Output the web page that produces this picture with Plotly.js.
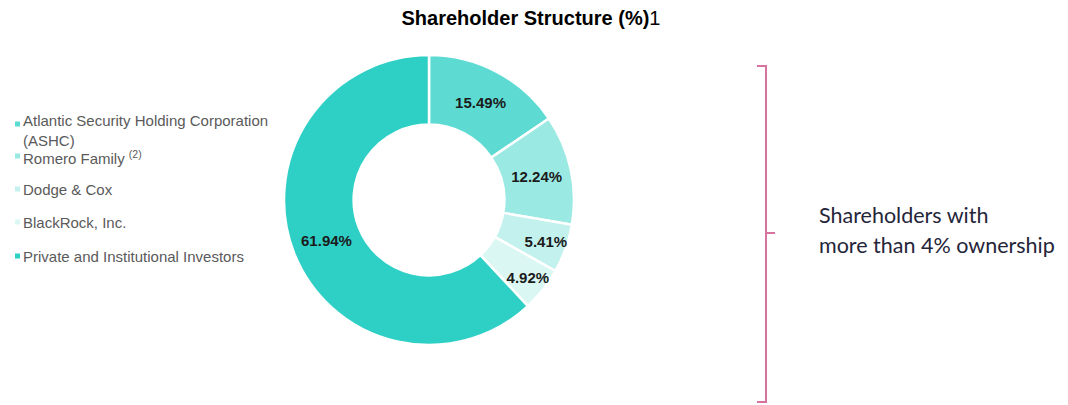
<!DOCTYPE html>
<html>
<head>
<meta charset="utf-8">
<script src="https://cdn.plot.ly/plotly-3.0.1.min.js"></script>
<style>html,body{margin:0;padding:0;background:#fff;}#chart{width:1068px;height:405px;}</style>
</head>
<body>
<div id="chart"></div>
<script>
// Data
const categories = ["Atlantic Security Holding Corporation (ASHC)", "Romero Family", "Dodge & Cox", "BlackRock, Inc.", "Private and Institutional Investors"];
const shares = [15.49, 12.24, 5.41, 4.92, 61.94];
const legendLabels = ["Atlantic Security Holding Corporation<br>(ASHC)", "Romero Family <sup>(2)</sup>", "Dodge & Cox", "BlackRock, Inc.", "Private and Institutional Investors"];
const sliceColors = ["#5ddbd3", "#9be9e3", "#c3f1ed", "#daf7f4", "#2ed0c6"];
const sideNote = ["Shareholders with", "more than 4% ownership"];

const W = 1068, H = 405;
const cx = 429, cy = 200, R = 145;

const trace = {
  type: "pie",
  labels: categories,
  values: shares,
  sort: false,
  direction: "clockwise",
  rotation: 0,
  hole: 0.52,
  marker: {colors: sliceColors, line: {color: "#ffffff", width: 2.5}},
  texttemplate: "%{value:.2f}%",
  textposition: "inside",
  insidetextorientation: "horizontal",
  textfont: {family: "Liberation Sans, Arial, sans-serif", size: 15, color: "#1b1b1b", weight: "bold"},
  showlegend: false,
  hoverinfo: "label+percent",
  domain: {x: [(cx - R) / W, (cx + R) / W], y: [(H - cy - R) / H, (H - cy + R) / H]}
};

// legend built as annotations + small square markers
const legendTextY = [130, 157, 189, 222, 256];
const legendMarkY = [124, 156, 189, 222, 256];
const annotations = [];
const shapes = [];
legendLabels.forEach((t, i) => {
  annotations.push({
    xref: "paper", yref: "paper", x: 21 / W, y: 1 - legendTextY[i] / H,
    xanchor: "left", yanchor: "middle", align: "left", showarrow: false,
    text: t, font: {family: "Liberation Sans, Arial, sans-serif", size: 15, color: "#5a5a5a"}
  });
  shapes.push({
    type: "rect", xref: "paper", yref: "paper",
    x0: 15 / W, x1: 20 / W, y0: 1 - (legendMarkY[i] + 2.5) / H, y1: 1 - (legendMarkY[i] - 2.5) / H,
    fillcolor: sliceColors[i], line: {width: 0}
  });
});

// bracket
const bx = 766, bTop = 66, bBot = 402, bMid = 233;
const px = v => v / W, py = v => 1 - v / H;
shapes.push({
  type: "path", xref: "paper", yref: "paper",
  path: `M ${px(757)} ${py(bTop)} L ${px(bx)} ${py(bTop)} L ${px(bx)} ${py(bBot)} L ${px(757)} ${py(bBot)} M ${px(bx)} ${py(bMid)} L ${px(775)} ${py(bMid)}`,
  line: {color: "#d6739f", width: 2}
});
const noteY = [215, 245];
sideNote.forEach((t, i) => {
  annotations.push({
    xref: "paper", yref: "paper", x: 817 / W, y: 1 - noteY[i] / H,
    xanchor: "left", yanchor: "middle", align: "left", showarrow: false,
    text: t,
    font: {family: "Lato, Open Sans, sans-serif", size: 21.5, color: "#25253a"}
  });
});

const layout = {
  width: W, height: H,
  margin: {l: 0, r: 0, t: 0, b: 0},
  paper_bgcolor: "#ffffff",
  plot_bgcolor: "#ffffff",
  uniformtext: {minsize: 15, mode: "show"},
  title: {
    text: "<b>Shareholder Structure (%)</b>1",
    x: 531 / W, xanchor: "center", xref: "paper",
    y: 1 - 18 / H, yanchor: "middle", yref: "container",
    font: {family: "Liberation Sans, Arial, sans-serif", size: 20, color: "#000000"}
  },
  annotations: annotations,
  shapes: shapes,
  showlegend: false
};

Plotly.newPlot("chart", [trace], layout, {displayModeBar: false, staticPlot: true});
</script>
</body>
</html>
